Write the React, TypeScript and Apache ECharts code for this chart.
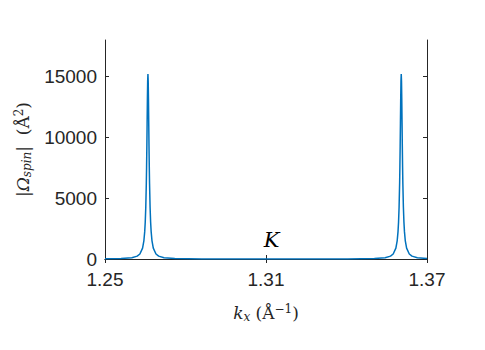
import React, { useEffect, useRef } from "react";
import * as echarts from "echarts";

const kx = [
  1.25, 1.256, 1.26, 1.262, 1.263, 1.264, 1.2645, 1.2648, 1.265, 1.2652, 1.2654, 1.2655, 1.2656, 1.2657, 1.2658, 1.2659,
  1.266, 1.2661, 1.2662, 1.2663, 1.2664, 1.2665, 1.2666, 1.2668, 1.267, 1.2672, 1.2675, 1.268, 1.269, 1.27, 1.272,
  1.276, 1.286, 1.3, 1.313, 1.326, 1.3404, 1.3504, 1.3544, 1.3564, 1.3574, 1.3584, 1.3589, 1.3592, 1.3594, 1.3596,
  1.3598, 1.3599, 1.36, 1.3601, 1.3602, 1.3603, 1.3604, 1.3605, 1.3606, 1.3607, 1.3608, 1.3609, 1.361, 1.3612,
  1.3614, 1.3616, 1.3619, 1.3624, 1.3634, 1.3644, 1.3664, 1.37,
];
const omega = [
  15, 38, 105, 234, 411, 894, 1520, 2249, 3040, 4270, 6230, 7600, 9268, 11176, 13103, 14615,
  15200, 14615, 13103, 11176, 9268, 7600, 6230, 4270, 3040, 2249, 1520, 894, 411, 234, 105,
  38, 10, 5, 3, 5, 10, 38, 105, 234, 411, 894, 1520, 2249, 3040, 4270,
  6230, 7600, 9268, 11176, 13103, 14615, 15200, 14615, 13103, 11176, 9268, 7600, 6230, 4270,
  3040, 2249, 1520, 894, 411, 234, 105, 41,
];
const xTicks = [1.25, 1.31, 1.37];
const yTicks = [0, 5000, 10000, 15000];
const kPoint = [1.3121, 1560];

const TXT = "#262626";
const SANS = "'Liberation Sans', Arial, Helvetica, sans-serif";
const SERIF = "'DejaVu Serif', 'Liberation Serif', serif";

export default function App() {
  const ref = useRef<HTMLDivElement>(null);
  useEffect(() => {
    if (!ref.current) return;
    const chart = echarts.init(ref.current, null, { renderer: "svg" });
    const axisLine = { show: true, lineStyle: { color: TXT, width: 1 } };
    const data = kx.map((x, i) => [x, omega[i]]);
    chart.setOption({
      animation: false,
      backgroundColor: "#ffffff",
      grid: { left: 105, right: 58, top: 40, bottom: 91, containLabel: false },
      xAxis: [
        {
          type: "value",
          min: 1.25,
          max: 1.37,
          axisLine,
          axisTick: { show: true, inside: true, length: 4, lineStyle: { color: TXT }, customValues: xTicks },
          axisLabel: {
            customValues: xTicks,
            formatter: (v: number) => v.toFixed(2),
            color: TXT,
            fontFamily: SANS,
            fontSize: 19,
            margin: 11,
          },
          splitLine: { show: false },
          name: "{i|k}{s|x}{n| (Å}{p|−1}{n|)}",
          nameLocation: "middle",
          nameGap: 42,
          nameTextStyle: {
            rich: {
              i: { fontFamily: SERIF, fontStyle: "italic", fontSize: 17, color: TXT, lineHeight: 24 },
              s: { fontFamily: SERIF, fontStyle: "italic", fontSize: 12, color: TXT, padding: [8, 0, 0, 0] },
              n: { fontFamily: SERIF, fontSize: 17, color: TXT },
              p: { fontFamily: SERIF, fontSize: 12, color: TXT, padding: [0, 0, 8, 0] },
            },
          },
        },
        {
          type: "value",
          position: "top",
          min: 1.25,
          max: 1.37,
          axisLine,
          axisTick: { show: true, inside: true, length: 4, lineStyle: { color: TXT }, customValues: xTicks },
          axisLabel: { show: false },
          splitLine: { show: false },
        },
      ],
      yAxis: [
        {
          type: "value",
          min: 0,
          max: 18000,
          axisLine,
          axisTick: { show: true, inside: true, length: 4, lineStyle: { color: TXT }, customValues: yTicks },
          axisLabel: {
            customValues: yTicks,
            formatter: (v: number) => String(Math.round(v)),
            color: TXT,
            fontFamily: SANS,
            fontSize: 19,
            margin: 8,
          },
          splitLine: { show: false },
          name: "{a|\u007C}{o|Ω}{s|spin}{a|\u007C  (Å}{p|2}{a|)}",
          nameLocation: "middle",
          nameGap: 63,
          nameTextStyle: {
            rich: {
              a: { fontFamily: SERIF, fontSize: 17, color: TXT, lineHeight: 24 },
              o: { fontFamily: SERIF, fontStyle: "italic", fontSize: 17, color: TXT, lineHeight: 24 },
              s: { fontFamily: SERIF, fontStyle: "italic", fontSize: 12, color: TXT, padding: [8, 0, 0, 0] },
              p: { fontFamily: SERIF, fontSize: 12, color: TXT, padding: [0, 0, 8, 0] },
            },
          },
        },
        {
          type: "value",
          position: "right",
          min: 0,
          max: 18000,
          axisLine,
          axisTick: { show: true, inside: true, length: 4, lineStyle: { color: TXT }, customValues: yTicks },
          axisLabel: { show: false },
          splitLine: { show: false },
        },
      ],
      series: [
        {
          type: "line",
          data,
          xAxisIndex: 0,
          yAxisIndex: 0,
          showSymbol: false,
          symbol: "none",
          lineStyle: { color: "#0072BD", width: 1.5 },
          z: 1,
          markPoint: {
            symbol: "circle",
            symbolSize: 0,
            data: [
              {
                coord: kPoint,
                label: {
                  show: true,
                  formatter: "K",
                  fontFamily: SERIF,
                  fontStyle: "italic",
                  fontSize: 21,
                  color: "#000000",
                  position: "inside",
                },
              },
            ],
          },
        },
      ],
    });
    return () => chart.dispose();
  }, []);
  return <div ref={ref} style={{ position: "absolute", left: 0, top: 0, width: 485, height: 350 }} />;
}
